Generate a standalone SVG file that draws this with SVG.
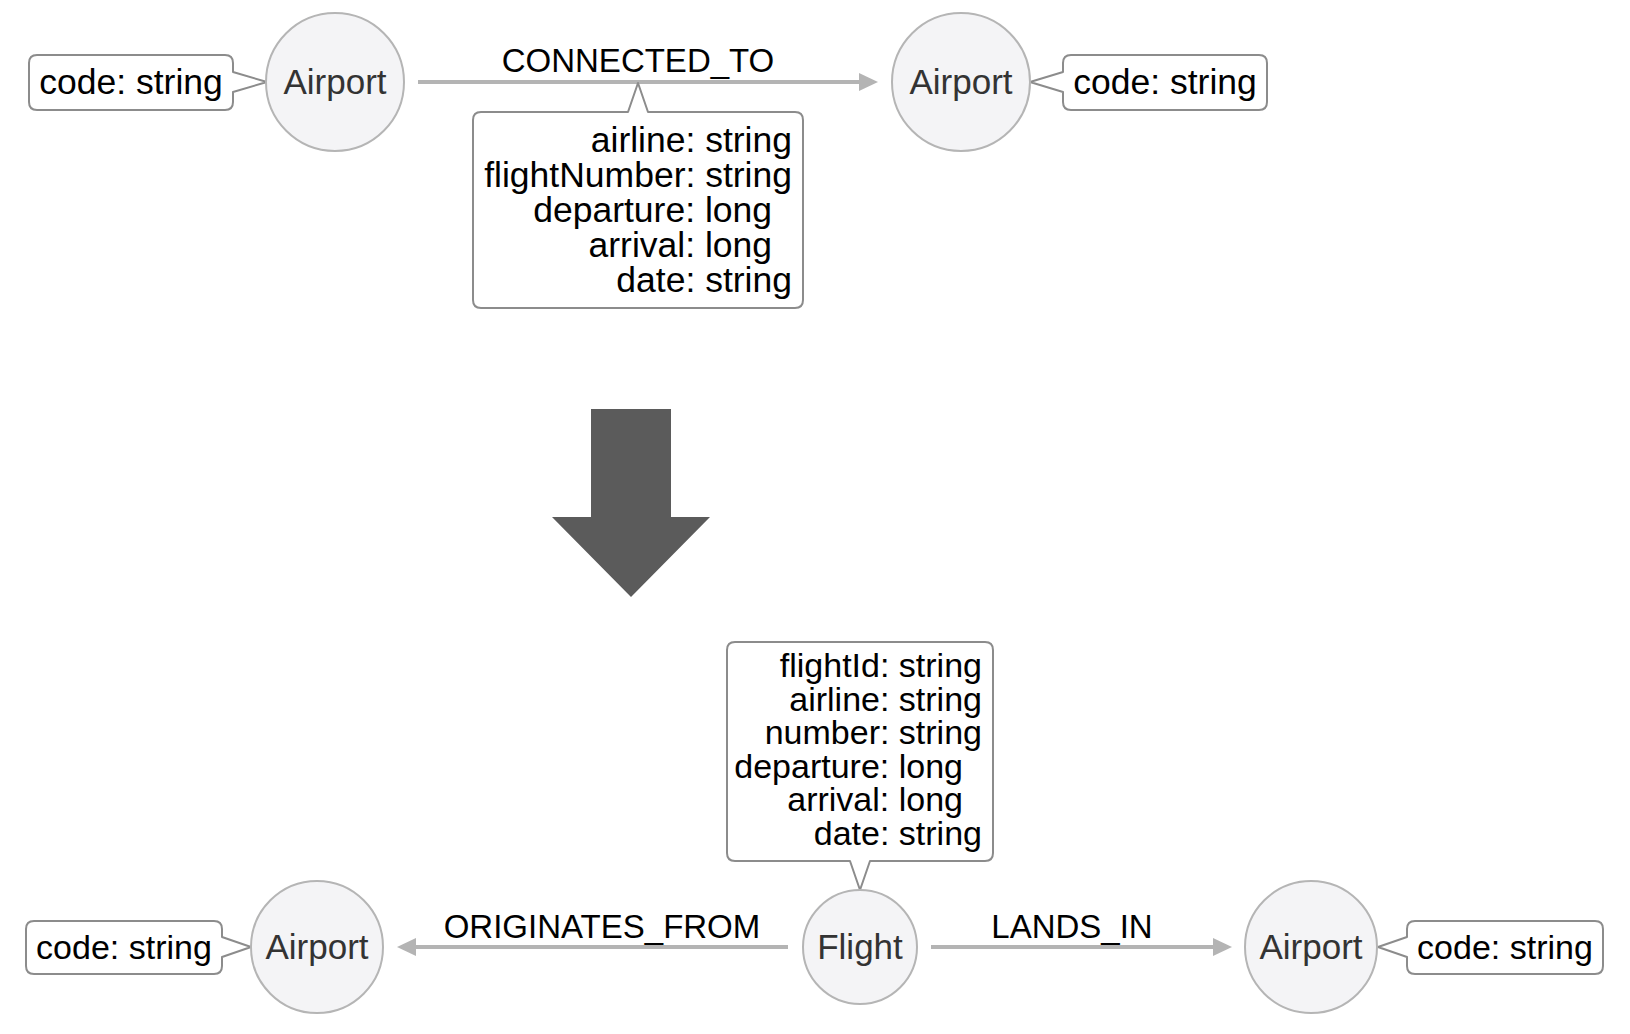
<svg xmlns="http://www.w3.org/2000/svg" width="1630" height="1034" viewBox="0 0 1630 1034">
<style>
.node{fill:#f4f4f6;stroke:#b5b5b5;stroke-width:2}
.callout{fill:#ffffff;stroke:#8c8c8c;stroke-width:2;stroke-linejoin:round}
.edge{stroke:#b4b4b4;stroke-width:4;fill:none}
.t{font-family:"Liberation Sans",Arial,Helvetica,sans-serif;fill:#000}
.nl{font-family:"Liberation Sans",Arial,Helvetica,sans-serif;fill:#333;font-size:35px;text-anchor:middle}
.prop{font-size:35.5px}
.prop2{font-size:34px}
.k{text-anchor:end}
.lbl{font-size:33px;text-anchor:middle}
</style>
<defs>
<marker id="ah" markerUnits="userSpaceOnUse" viewBox="0 0 19 18" refX="9" refY="9" markerWidth="19" markerHeight="18" orient="auto">
<path d="M0,0 L19,9 L0,18 Z" fill="#b4b4b4"/>
</marker>
</defs>
<rect width="1630" height="1034" fill="#ffffff"/>

<g id="connectors">
<line class="edge" x1="418" y1="82" x2="868" y2="82" marker-end="url(#ah)"/>
<text class="t lbl" x="638" y="72">CONNECTED_TO</text>
<line class="edge" x1="788" y1="947" x2="407" y2="947" marker-end="url(#ah)"/>
<text class="t lbl" x="602" y="938">ORIGINATES_FROM</text>
<line class="edge" x1="931" y1="947" x2="1222" y2="947" marker-end="url(#ah)"/>
<text class="t lbl" x="1072" y="938">LANDS_IN</text>
</g>

<g id="airport-top-left">
<path class="callout" d="M37,55 H225 Q233,55 233,63 V72 L267,82 L233,92 V102 Q233,110 225,110 H37 Q29,110 29,102 V63 Q29,55 37,55 Z"/>
<text class="t prop" x="131" y="94" text-anchor="middle">code: string</text>
<circle class="node" cx="335" cy="82" r="69"/>
<text class="nl" x="335" y="94">Airport</text>
</g>

<g id="airport-top-right">
<path class="callout" d="M1071,55 H1259 Q1267,55 1267,63 V102 Q1267,110 1259,110 H1071 Q1063,110 1063,102 V92 L1030,82 L1063,72 V63 Q1063,55 1071,55 Z"/>
<text class="t prop" x="1165" y="94" text-anchor="middle">code: string</text>
<circle class="node" cx="961" cy="82" r="69"/>
<text class="nl" x="961" y="94">Airport</text>
</g>

<g id="connected-to-props">
<path class="callout" d="M481,112 H628 L638,83 L648,112 H795 Q803,112 803,120 V300 Q803,308 795,308 H481 Q473,308 473,300 V120 Q473,112 481,112 Z"/>
<text class="t prop k" x="792" y="152">airline: string</text>
<text class="t prop k" x="792" y="187">flightNumber: string</text>
<text class="t prop k" x="772" y="222">departure: long</text>
<text class="t prop k" x="772" y="257">arrival: long</text>
<text class="t prop k" x="792" y="292">date: string</text>
</g>

<g id="transform-arrow">
<polygon points="591,409 671,409 671,517 710,517 631,597 552,517 591,517" fill="#5b5b5b"/>
</g>

<g id="airport-bottom-left">
<path class="callout" d="M34,921 H214 Q222,921 222,929 V937 L251,947 L222,957 V966 Q222,974 214,974 H34 Q26,974 26,966 V929 Q26,921 34,921 Z"/>
<text class="t" x="124" y="959" font-size="34" text-anchor="middle">code: string</text>
<circle class="node" cx="317" cy="947" r="66"/>
<text class="nl" x="317" y="959" font-size="34">Airport</text>
</g>

<g id="flight">
<path class="callout" d="M735,642 H985 Q993,642 993,650 V853 Q993,861 985,861 H870 L860,890 L850,861 H735 Q727,861 727,853 V650 Q727,642 735,642 Z"/>
<text class="t prop2 k" x="982" y="677">flightId: string</text>
<text class="t prop2 k" x="982" y="711">airline: string</text>
<text class="t prop2 k" x="982" y="744">number: string</text>
<text class="t prop2 k" x="963" y="778">departure: long</text>
<text class="t prop2 k" x="963" y="811">arrival: long</text>
<text class="t prop2 k" x="982" y="845">date: string</text>
<circle class="node" cx="860" cy="947" r="57"/>
<text class="nl" x="860" y="959" font-size="33">Flight</text>
</g>

<g id="airport-bottom-right">
<path class="callout" d="M1415,921 H1595 Q1603,921 1603,929 V966 Q1603,974 1595,974 H1415 Q1407,974 1407,966 V957 L1378,947 L1407,937 V929 Q1407,921 1415,921 Z"/>
<text class="t" x="1505" y="959" font-size="34" text-anchor="middle">code: string</text>
<circle class="node" cx="1311" cy="947" r="66"/>
<text class="nl" x="1311" y="959" font-size="34">Airport</text>
</g>
</svg>
